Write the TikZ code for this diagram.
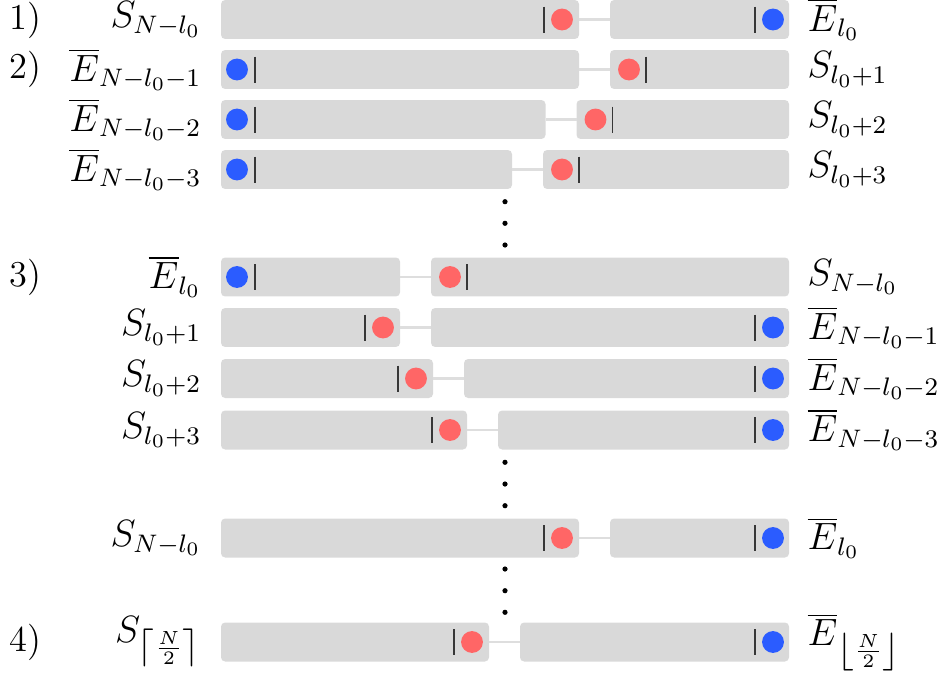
\documentclass[tikz,border=0pt]{standalone}
\usetikzlibrary{calc}
\definecolor{blkGray}{RGB}{217, 217, 217}
\definecolor{linkGray}{RGB}{222, 222, 222}
\definecolor{dotRed}{RGB}{255, 102, 102}
\definecolor{dotBlue}{RGB}{43, 92, 255}
\definecolor{barGray}{RGB}{55, 55, 55}

\begin{document}
\begin{tikzpicture}[
  x=0.3155pt, y=-0.3155pt,
  blk/.style={
    rectangle,
    fill=blkGray,
    rounded corners=1.3pt,
    minimum height=12.3pt,
    inner sep=0pt,
    outer sep=0pt
  },
  link/.style={draw=linkGray, line width=0.85pt},
  reddot/.style={circle, fill=dotRed, minimum size=6.9pt, inner sep=0pt},
  bluedot/.style={circle, fill=dotBlue, minimum size=6.9pt, inner sep=0pt},
  bar/.style={draw=barGray, line width=0.45pt},
  lbl/.style={inner sep=0pt, font=\fontsize{11.5}{13.5}\selectfont},
  steplbl/.style={inner sep=0pt, anchor=west, font=\fontsize{11.5}{13.5}\selectfont}
]
  \useasboundingbox (0,0) rectangle (948,684);

  % ── Blocs (rouge en fin de bloc gauche, bleu en fin de bloc droit) ──
  \foreach \n/\y/\a in {1/19.5/579, 6/327.5/400, 7/378.5/433, 8/430/467, 9/538/579, 10/642/489} {
    \node[blk, minimum width={(\a-221)*0.3155pt}] (L\n) at ({(221+\a)/2}, \y) {};
    \node[blk, minimum width={(789-\a-31)*0.3155pt}] (R\n) at ({(\a+31+789)/2}, \y) {};
    \draw[link] (L\n.east) -- (R\n.west);
    \node[reddot] (r\n) at ($(L\n.east)+(-17,0)$) {};
    \draw[bar] ($(L\n.east)+(-35,-13)$) -- ++(0,26);
    \node[bluedot] (b\n) at ($(R\n.east)+(-16,0)$) {};
    \draw[bar] ($(R\n.east)+(-34,-13)$) -- ++(0,26);
  }

  % ── Blocs (bleu en tête de bloc gauche, rouge en tête de bloc droit) ──
  \foreach \n/\y/\a in {2/69.5/579, 3/119.5/545.5, 4/169.5/512, 5/277/400} {
    \node[blk, minimum width={(\a-221)*0.3155pt}] (L\n) at ({(221+\a)/2}, \y) {};
    \node[blk, minimum width={(789-\a-31)*0.3155pt}] (R\n) at ({(\a+31+789)/2}, \y) {};
    \draw[link] (L\n.east) -- (R\n.west);
    \node[bluedot] (b\n) at ($(L\n.west)+(16,0)$) {};
    \draw[bar] ($(L\n.west)+(34,-13)$) -- ++(0,26);
    \node[reddot] (r\n) at ($(R\n.west)+(19,0)$) {};
    \draw[bar] ($(R\n.west)+(36,-13)$) -- ++(0,26);
  }

  % ── Points de suspension ──
  \foreach \y in {201.7, 223.3, 245, 462.3, 484, 505.7, 569, 590.7, 612.3}
    \fill (505, \y) circle (2.6);

  % ── Étapes ──
  \node[steplbl] (st1) at (9, 20) {1)};
  \node[steplbl] (st2) at (9, 69.5) {2)};
  \node[steplbl] (st3) at (9, 277) {3)};
  \node[steplbl] (st4) at (9, 642) {4)};

  % ── Étiquettes gauche ──
  \node[lbl, anchor=east] (sl1)  at (202, 19.5)  {$S_{N-l_0}$};
  \node[lbl, anchor=east] (sl2)  at (202, 69.5)  {$\overline{E}_{N-l_0-1}$};
  \node[lbl, anchor=east] (sl3)  at (202, 119.5) {$\overline{E}_{N-l_0-2}$};
  \node[lbl, anchor=east] (sl4)  at (202, 169.5) {$\overline{E}_{N-l_0-3}$};
  \node[lbl, anchor=east] (sl5)  at (202, 277)   {$\overline{E}_{l_0}$};
  \node[lbl, anchor=east] (sl6)  at (202, 327.5) {$S_{l_0+1}$};
  \node[lbl, anchor=east] (sl7)  at (202, 378.5) {$S_{l_0+2}$};
  \node[lbl, anchor=east] (sl8)  at (202, 430)   {$S_{l_0+3}$};
  \node[lbl, anchor=east] (sl9)  at (202, 538)   {$S_{N-l_0}$};
  \node[lbl, anchor=east] (sl10) at (202, 642)   {$S_{\left\lceil \frac{N}{2} \right\rceil}$};

  % ── Étiquettes droite ──
  \node[lbl, anchor=west] (sr1)  at (807, 19.5)  {$\overline{E}_{l_0}$};
  \node[lbl, anchor=west] (sr2)  at (807, 69.5)  {$S_{l_0+1}$};
  \node[lbl, anchor=west] (sr3)  at (807, 119.5) {$S_{l_0+2}$};
  \node[lbl, anchor=west] (sr4)  at (807, 169.5) {$S_{l_0+3}$};
  \node[lbl, anchor=west] (sr5)  at (807, 277)   {$S_{N-l_0}$};
  \node[lbl, anchor=west] (sr6)  at (807, 327.5) {$\overline{E}_{N-l_0-1}$};
  \node[lbl, anchor=west] (sr7)  at (807, 378.5) {$\overline{E}_{N-l_0-2}$};
  \node[lbl, anchor=west] (sr8)  at (807, 430)   {$\overline{E}_{N-l_0-3}$};
  \node[lbl, anchor=west] (sr9)  at (807, 538)   {$\overline{E}_{l_0}$};
  \node[lbl, anchor=west] (sr10) at (807, 642)   {$\overline{E}_{\left\lfloor \frac{N}{2} \right\rfloor}$};

\end{tikzpicture}
\end{document}
